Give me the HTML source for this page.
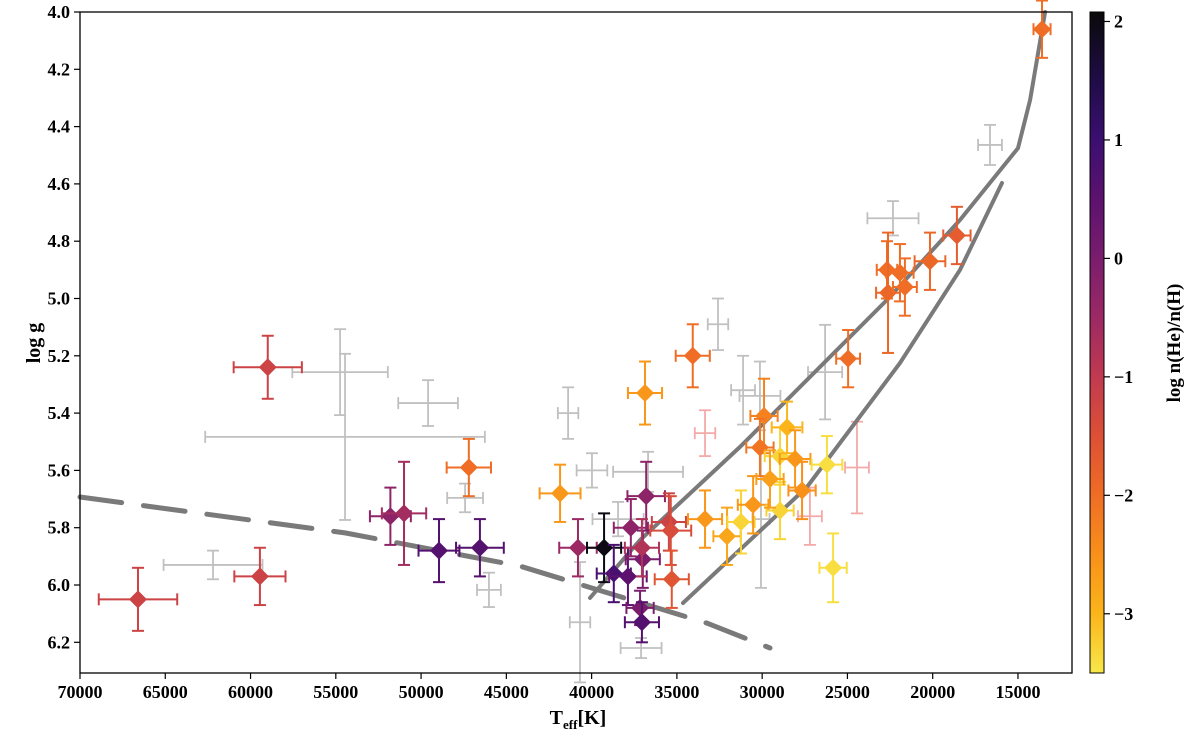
<!DOCTYPE html>
<html><head><meta charset="utf-8"><style>
body{margin:0;background:#fff}
svg text{font-family:"Liberation Serif",serif;font-weight:bold;fill:#000}
</style></head><body>
<svg id="chart" width="1200" height="734" viewBox="0 0 1200 734">
<defs><linearGradient id="cbgrad" x1="0" y1="1" x2="0" y2="0"></linearGradient></defs>
<g id="grayLayer"></g>
<g id="lineLayer"></g>
<g id="pointLayer"></g>
<rect x="80" y="12" width="992" height="661" fill="none" stroke="#000" stroke-width="1.3"/>
<g id="axes"></g>
<rect x="1090" y="12" width="14" height="661" fill="url(#cbgrad)" stroke="#000" stroke-width="1"/>
<g id="cbaxis"></g>
<text x="578" y="724" font-size="20" text-anchor="middle">T<tspan font-size="13" dy="5">eff</tspan><tspan dy="-5">[K]</tspan></text>
<text transform="translate(40,343) rotate(-90)" font-size="20" text-anchor="middle">log g</text>
<text transform="translate(1180,343) rotate(-90)" font-size="19" text-anchor="middle">log n(He)/n(H)</text>
</svg>
<script>
const teff=[66600,59450,58990,51800,51000,48950,46550,47200,41850,40800,39270,38700,37870,36870,36800,37700,37000,37050,37160,37050,35470,35360,35300,34070,33350,32060,31240,29890,30130,30530,28950,28540,28070,28950,27660,26200,25840,24960,29540,22680,21920,22620,21630,20160,18580,13590];
const logg=[6.05,5.97,5.24,5.76,5.75,5.88,5.87,5.59,5.68,5.87,5.87,5.96,5.97,5.33,5.69,5.80,5.91,5.87,6.08,6.13,5.78,5.81,5.98,5.20,5.77,5.83,5.78,5.41,5.52,5.72,5.55,5.45,5.56,5.74,5.67,5.58,5.94,5.21,5.63,4.90,4.91,4.98,4.96,4.87,4.78,4.06];
const heH=[-1.2,-1.2,-1.2,-0.3,-0.6,0.6,0.6,-2.0,-2.6,-0.5,2.0,0.8,0.5,-2.6,-0.3,-0.3,0.0,-0.8,0.0,0.6,-1.2,-1.4,-1.6,-2.0,-2.6,-2.8,-3.3,-2.3,-2.1,-2.6,-3.3,-3.0,-2.6,-3.3,-2.5,-3.4,-3.4,-2.0,-2.7,-2.0,-2.0,-1.9,-2.0,-1.9,-1.7,-2.0];
const teffErr=[2300,1500,2000,1200,1300,1200,1400,1300,1200,1100,1000,1000,1100,1000,1100,1000,1000,1000,800,1000,1000,1200,1000,1000,1000,800,800,800,800,900,900,900,900,800,800,900,800,700,800,600,800,700,700,900,800,500];
const loggErr=[0.11,0.10,0.11,0.10,0.18,0.11,0.10,0.10,0.10,0.10,0.12,0.10,0.10,0.11,0.12,0.10,0.10,0.10,0.06,0.07,0.10,0.12,0.10,0.11,0.10,0.10,0.11,0.13,0.10,0.10,0.10,0.09,0.10,0.10,0.10,0.10,0.12,0.10,0.10,0.10,0.10,0.21,0.10,0.10,0.10,0.10];
const grayT=[54460,54750,49590,41380,47420,46020,62200,39980,36690,40680,37100,32590,31120,26310,22330,16640,30070,38450,30130];
const grayG=[5.483,5.257,5.365,5.40,5.696,6.017,5.93,5.60,5.605,6.13,6.22,5.09,5.32,5.257,4.72,4.464,5.77,5.77,5.34];
const grayTErr=[8200,2800,1750,600,1050,700,2900,900,2050,600,1200,600,700,1000,1500,700,500,1500,1200];
const grayGErr=[0.29,0.15,0.08,0.09,0.05,0.06,0.05,0.06,0.07,0.21,0.035,0.09,0.12,0.165,0.06,0.07,0.24,0.06,0.12];
const pinkT=[33350,27200,24440];
const pinkG=[5.47,5.76,5.59];
const pinkTErr=[600,700,700];
const pinkGErr=[0.08,0.10,0.16];
const dashT=[70000,54460,44200,33240,29540];
const dashG=[5.693,5.818,5.934,6.133,6.22];
const upperT=[40094,37160,31300,22680,18400,14996,14290,13410];
const upperG=[6.045,5.843,5.518,5.005,4.726,4.475,4.307,4.0];
const lowerT=[34640,27370,21915,18400,15935];
const lowerG=[6.063,5.658,5.225,4.90,4.597];
const xTicks=[70000,65000,60000,55000,50000,45000,40000,35000,30000,25000,20000,15000];
const yTicks=[4.0,4.2,4.4,4.6,4.8,5.0,5.2,5.4,5.6,5.8,6.0,6.2];
const cTicks=[2,1,0,-1,-2,-3];
const cLabels=["2","1","0","\u22121","\u22122","\u22123"];

const NS="http://www.w3.org/2000/svg";
const X=t=>80+(70000-t)/5000*85.27;
const Y=g=>12+(g-4)/0.2*57.3;
const CMIN=-3.5,CMAX=2.08;
const C=c=>12+(CMAX-c)/(CMAX-CMIN)*661;
const stops=[[2.1,[10,10,10]],[1.5,[31,12,72]],[1,[59,15,112]],[0.5,[92,18,110]],[0,[122,29,109]],[-0.5,[156,41,100]],[-1,[193,58,80]],[-1.5,[221,80,53]],[-2,[239,109,37]],[-2.5,[249,144,26]],[-3,[251,181,27]],[-3.5,[248,232,74]]];
function cmap(v){
  if(v>=stops[0][0])return `rgb(${stops[0][1]})`;
  for(let i=0;i<stops.length-1;i++){const a=stops[i],b=stops[i+1];
    if(v<=a[0]&&v>=b[0]){const f=(a[0]-v)/(a[0]-b[0]);
      return 'rgb('+a[1].map((q,k)=>Math.round(q+(b[1][k]-q)*f)).join(',')+')';}}
  return `rgb(${stops[stops.length-1][1]})`;
}
function mk(tag,attrs,parent){const e=document.createElementNS(NS,tag);for(const k in attrs)e.setAttribute(k,attrs[k]);parent.appendChild(e);return e;}
function errbar(parent,t,g,te,ge,col,w){
  const g0=mk('g',{stroke:col,'stroke-width':w,fill:'none'},parent);
  const x=X(t),y=Y(g),x1=X(t+te),x2=X(t-te),y1=Y(g-ge),y2=Y(g+ge);
  mk('line',{x1:x1,y1:y,x2:x2,y2:y},g0);
  mk('line',{x1:x,y1:y1,x2:x,y2:y2},g0);
  mk('line',{x1:x1,y1:y-6,x2:x1,y2:y+6},g0);
  mk('line',{x1:x2,y1:y-6,x2:x2,y2:y+6},g0);
  mk('line',{x1:x-6,y1:y1,x2:x+6,y2:y1},g0);
  mk('line',{x1:x-6,y1:y2,x2:x+6,y2:y2},g0);
  return g0;
}
const gl=document.getElementById('grayLayer');
for(let i=0;i<grayT.length;i++){
  const e=errbar(gl,grayT[i],grayG[i],grayTErr[i],grayGErr[i],'#c0c0c0',1.8);
  
  
}
for(let i=0;i<pinkT.length;i++){
  const e=errbar(gl,pinkT[i],pinkG[i],pinkTErr[i],pinkGErr[i],'#f4a9a9',1.8);
  
  
}
const ll=document.getElementById('lineLayer');
function pathD(ts,gs){return ts.map((t,i)=>(i?'L':'M')+X(t).toFixed(1)+','+Y(gs[i]).toFixed(1)).join(' ');}
const dl=mk('path',{d:pathD(dashT,dashG),stroke:'#7a7a7a','stroke-width':5,fill:'none','stroke-dasharray':'42,22','stroke-linecap':'round'},ll);


const ul=mk('path',{d:pathD(upperT,upperG),stroke:'#7a7a7a','stroke-width':4,fill:'none','stroke-linecap':'round'},ll);


const lw=mk('path',{d:pathD(lowerT,lowerG),stroke:'#7a7a7a','stroke-width':4,fill:'none','stroke-linecap':'round'},ll);


const pl=document.getElementById('pointLayer');
for(let i=0;i<teff.length;i++){
  const col=cmap(heH[i]);
  const e=errbar(pl,teff[i],logg[i],teffErr[i],loggErr[i],col,2);
  
  
  const x=X(teff[i]),y=Y(logg[i]);
  mk('path',{d:`M${x},${y-9} L${x+9},${y} L${x},${y+9} L${x-9},${y} Z`,fill:col,stroke:'none'},e);
}
const ax=document.getElementById('axes');
xTicks.forEach(t=>{
  mk('line',{x1:X(t),y1:673,x2:X(t),y2:679,stroke:'#000','stroke-width':1.2},ax);
  const tx=mk('text',{x:X(t),y:698,'font-size':18,'text-anchor':'middle'},ax);tx.textContent=t;
  
  
});
yTicks.forEach(g=>{
  mk('line',{x1:74,y1:Y(g),x2:80,y2:Y(g),stroke:'#000','stroke-width':1.2},ax);
  const tx=mk('text',{x:70,y:Y(g)+6,'font-size':18,'text-anchor':'end'},ax);tx.textContent=g.toFixed(1);
  
  
});
const grad=document.getElementById('cbgrad');
stops.slice().reverse().forEach(s=>{
  const f=Math.min(1,Math.max(0,(s[0]-CMIN)/(CMAX-CMIN)));
  mk('stop',{offset:f,'stop-color':`rgb(${s[1]})`},grad);
});
const cb=document.getElementById('cbaxis');
cTicks.forEach((c,i)=>{
  mk('line',{x1:1104,y1:C(c),x2:1110,y2:C(c),stroke:'#000','stroke-width':1.2},cb);
  const tx=mk('text',{x:1114,y:C(c)+6,'font-size':18},cb);tx.textContent=cLabels[i];
  
  
});
</script>
</body></html>
